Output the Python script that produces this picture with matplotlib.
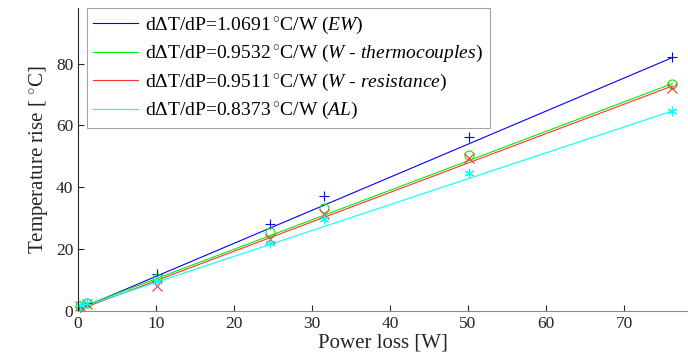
import numpy as np
import matplotlib.pyplot as plt

plt.rcParams['font.family'] = ['Liberation Serif', 'DejaVu Serif']
plt.rcParams['mathtext.fontset'] = 'custom'
plt.rcParams['mathtext.rm'] = 'Liberation Serif'
plt.rcParams['mathtext.it'] = 'Liberation Serif:italic'

# power loss [W]
power = [0.2, 1.15, 10.1, 24.6, 31.5, 50.1, 76.2]

# measured temperature rise [C]
t_ew = [1.4, 2.6, 12.1, 28.1, 37.2, 56.2, 82.0]
t_wtc = [1.7, 2.5, 10.7, 25.6, 33.4, 50.3, 73.5]
t_wres = [1.5, 2.3, 8.1, 23.4, 31.3, 49.6, 72.0]
t_al = [1.8, 2.7, 9.7, 22.0, 29.6, 44.6, 64.8]

# fitted slopes / intercepts
slopes = [1.0691, 0.9532, 0.9511, 0.8373]
offsets = [0.5, 0.9, 0.3, 0.9]
names = [r'$\mathit{EW}$', r'$\mathit{W}$ - $\mathit{thermocouples}$',
         r'$\mathit{W}$ - $\mathit{resistance}$', r'$\mathit{AL}$']
colors = ['#0000ff', '#00ee00', '#ff3030', '#00ffff']
markers = ['+', 'o', 'x', (6, 2, 0)]
meas = [t_ew, t_wtc, t_wres, t_al]

fig = plt.figure(figsize=(6.88, 3.63), dpi=100)
ax = fig.add_axes([78 / 688, 52 / 363, 610 / 688, 303 / 363])

p = np.array(power)
for k in range(4):
    fit = slopes[k] * p + offsets[k]
    lab = r'd$\Delta$T/dP=%.4f$\,^{\circ}$C/W (%s)' % (slopes[k], names[k])
    ax.plot(p, fit, color=colors[k], lw=0.8, label=lab, clip_on=False)
for k in range(4):
    ax.plot(p, meas[k], ls='none', marker=markers[k], color=colors[k],
            ms=7 if markers[k] != 'o' else 6.5, mfc='none', mew=0.8,
            clip_on=False)

ax.set_xlim(0, 78.2)
ax.set_ylim(0, 98)
ax.set_xticks(range(0, 80, 10))
ax.set_yticks(range(0, 100, 20))
ax.tick_params(direction='in', labelsize=12.5, length=4, colors='#262626')
ax.spines['top'].set_visible(False)
ax.spines['right'].set_visible(False)
ax.spines['left'].set_color('#262626')
ax.spines['bottom'].set_color('#8c8c8c')
ax.set_xlabel('Power loss [W]', fontsize=15, color='#262626', labelpad=1)
ax.set_ylabel(r'Temperature rise [ $^{\circ}$C]', fontsize=15,
              color='#262626', labelpad=4)

leg = ax.legend(loc='upper left', bbox_to_anchor=(0.014, 1.0), fontsize=14,
                handlelength=2.3, frameon=True, fancybox=False,
                edgecolor='#8c8c8c', borderpad=0.35, labelspacing=0.38,
                handletextpad=0.35, borderaxespad=0)
leg.get_frame().set_linewidth(0.8)

fig.savefig('out.png', dpi=100)
